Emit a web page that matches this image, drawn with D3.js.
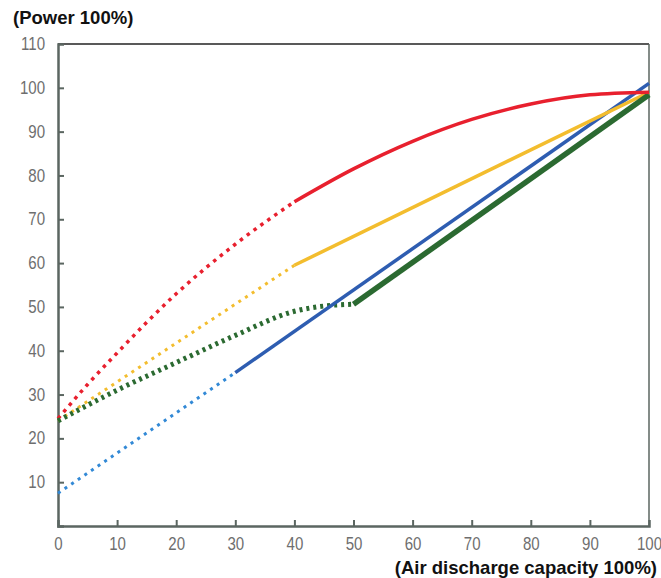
<!DOCTYPE html>
<html><head><meta charset="utf-8">
<script src="https://cdn.jsdelivr.net/npm/d3@7"></script>
<style>body{margin:0;background:#fff;}svg{display:block;}</style>
</head><body>
<svg id="c" width="661" height="578"></svg>
<script>
const xTicks = [0,10,20,30,40,50,60,70,80,90,100];
const yTicks = [10,20,30,40,50,60,70,80,90,100,110];

const redDotted = [[0,24.5],[5,32.3],[10,39.5],[20,53],[30,64.3],[40,74]];
const redSolid = [[40,74],[50,81.5],[60,87.8],[70,92.8],[80,96.3],[90,98.4],[100,99]];
const yellowDotted = [[0,24],[40,59.5]];
const yellowSolid = [[40,59.5],[100,99]];
const blueDotted = [[0,7.5],[30,35]];
const blueSolid = [[30,35],[100,101]];
const greenDotted = [[0,24],[10,31],[20,37.3],[30,43.5],[40,49],[45,50.2],[50,50.6]];
const greenSolid = [[50,50.6],[100,98.4]];

const svg = d3.select("#c");
const L=58, R=649, T=44, B=526;
const x = d3.scaleLinear().domain([0,100]).range([L,R]);
const y = d3.scaleLinear().domain([0,110]).range([B,T]);

// frame
svg.append("line").attr("x1",L).attr("x2",R).attr("y1",T).attr("y2",T).attr("stroke","#222").attr("stroke-width",1.5);
svg.append("line").attr("x1",R).attr("x2",R).attr("y1",T).attr("y2",B).attr("stroke","#5b6661").attr("stroke-width",1.5);

const axisColor="#5b6661";
const FS=17.5, SX=0.86;
const gx = svg.append("g").attr("transform",`translate(0,${B})`)
  .call(d3.axisBottom(x).tickValues(xTicks).tickSize(-6).tickPadding(12).tickFormat(d3.format("d")));
const gy = svg.append("g").attr("transform",`translate(${L},0)`)
  .call(d3.axisLeft(y).tickValues(yTicks).tickSize(-6).tickPadding(13).tickFormat(d3.format("d")));
[gx,gy].forEach(g=>{
  g.select(".domain").attr("stroke",axisColor).attr("stroke-width",2.5);
  g.selectAll(".tick line").attr("stroke",axisColor).attr("stroke-width",2);
  g.selectAll(".tick text").attr("fill","#6e6e6e").attr("font-family","'Liberation Sans', Arial, sans-serif").attr("font-size",FS);
});
gx.selectAll(".tick text").attr("transform",`scale(${SX},1)`);
gy.selectAll(".tick text").attr("transform",`translate(-13,0) scale(${SX},1) translate(13,0)`);
gx.select(".tick line").attr("display","none");
gy.selectAll(".tick").filter(d=>d===110).select("line").attr("display","none");
gx.selectAll(".tick").filter(d=>d===100).select("line").attr("display","none");

const line = d3.line().x(d=>x(d[0])).y(d=>y(d[1])).curve(d3.curveMonotoneX);
function draw(data,color,w,dash){
  const p = svg.append("path").datum(data).attr("d",line).attr("fill","none")
    .attr("stroke",color).attr("stroke-width",w);
  if(dash) p.attr("stroke-dasharray",dash);
}
draw(redDotted,"#e8202e",3.5,"3.5,5");
draw(yellowDotted,"#f3bd2e",3,"3,5");
draw(greenDotted,"#2b6a31",5,"3,4");
draw(blueDotted,"#3289d6",3,"3,5");
draw(blueSolid,"#2e5db1",3.5,null);
draw(yellowSolid,"#f3bd2e",3.5,null);
draw(greenSolid,"#2b6a31",5.5,null);
draw(redSolid,"#e8202e",3.5,null);

svg.append("text").attr("x",13).attr("y",24).text("(Power 100%)")
  .attr("font-family","'Liberation Sans', Arial, sans-serif").attr("font-weight","bold").attr("font-size",18.5).attr("fill","#111");
svg.append("text").attr("x",657).attr("y",574).attr("text-anchor","end").text("(Air discharge capacity 100%)")
  .attr("font-family","'Liberation Sans', Arial, sans-serif").attr("font-weight","bold").attr("font-size",18.5).attr("fill","#111");
</script>
</body></html>
